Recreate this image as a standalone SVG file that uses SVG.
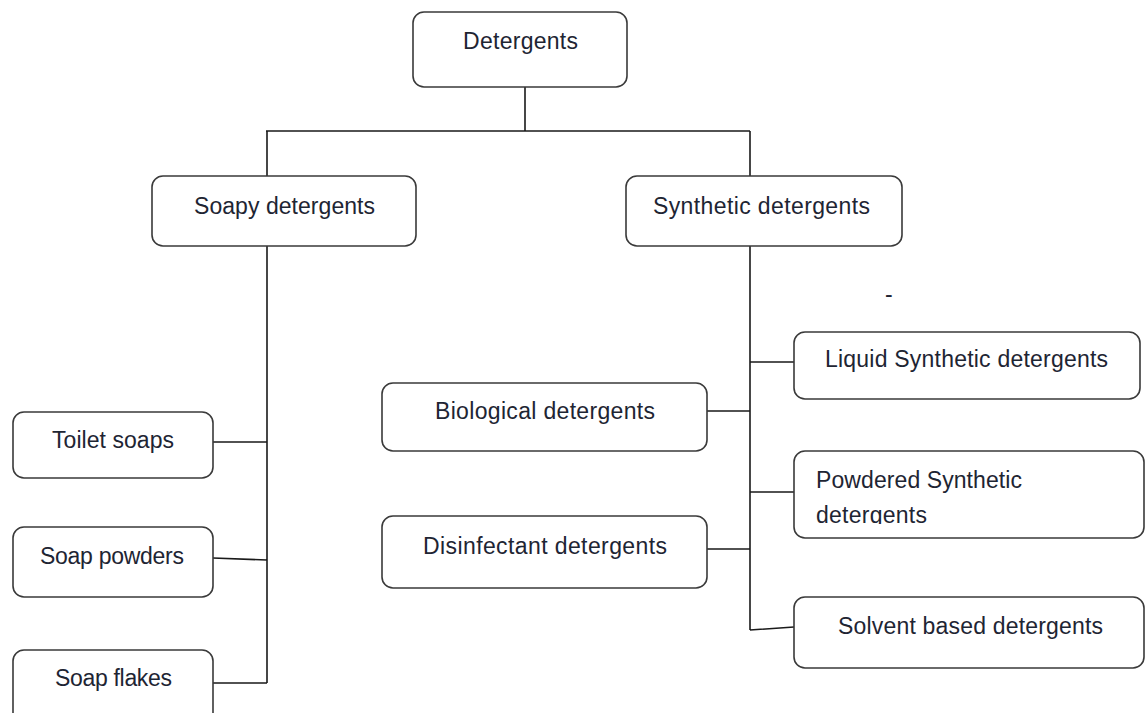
<svg xmlns="http://www.w3.org/2000/svg" width="1145" height="713" viewBox="0 0 1145 713">
<style>
.box{fill:#fff;stroke:#3a3a3a;stroke-width:1.6}
.lbl{font-family:"Liberation Sans",Arial,sans-serif;font-size:23px;fill:#1e2533}
.c{text-anchor:middle}
.ln{fill:none;stroke:#1a1a1a;stroke-width:1.6}
</style>
<defs>
<clipPath id="clipPow"><rect x="794" y="451" width="351" height="73"/></clipPath>
</defs>
<rect width="1145" height="713" fill="#fff"/>
<g id="connectors">
<path class="ln" d="M525 87V131M266 131H750M267 131V176M750 131V176"/>
<path class="ln" d="M267 246V683M213 442H267M213 558L267 560M213 683H267"/>
<path class="ln" d="M750 246V630M750 362H794M707 411H750M750 492H794M707 549H750M750 630L794 627"/>
</g>
<g id="n-detergents">
<rect class="box" x="413" y="12" width="214" height="75" rx="11"/>
<text class="lbl c" x="520.5" y="49" textLength="115">Detergents</text>
</g>
<g id="n-soapy">
<rect class="box" x="152" y="176" width="264" height="70" rx="11"/>
<text class="lbl c" x="284.5" y="214" textLength="181">Soapy detergents</text>
</g>
<g id="n-synthetic">
<rect class="box" x="626" y="176" width="276" height="70" rx="11"/>
<text class="lbl c" x="761.5" y="214" textLength="217">Synthetic detergents</text>
</g>
<g id="n-mark">
<text class="lbl" x="885" y="302" font-size="16">-</text>
</g>
<g id="n-liquid">
<rect class="box" x="794" y="332" width="346" height="67" rx="11"/>
<text class="lbl c" x="966.5" y="367" textLength="283">Liquid Synthetic detergents</text>
</g>
<g id="n-biological">
<rect class="box" x="382" y="383" width="325" height="68" rx="11"/>
<text class="lbl c" x="545" y="419" textLength="220">Biological detergents</text>
</g>
<g id="n-powdered">
<rect class="box" x="794" y="451" width="350" height="87" rx="11"/>
<g clip-path="url(#clipPow)">
<text class="lbl" x="816" y="488" textLength="206">Powdered Synthetic</text>
<text class="lbl" x="816" y="523" textLength="111">detergents</text>
</g>
</g>
<g id="n-disinfectant">
<rect class="box" x="382" y="516" width="325" height="72" rx="11"/>
<text class="lbl c" x="545" y="554" textLength="244">Disinfectant detergents</text>
</g>
<g id="n-solvent">
<rect class="box" x="794" y="597" width="350" height="71" rx="11"/>
<text class="lbl c" x="970.5" y="634" textLength="265">Solvent based detergents</text>
</g>
<g id="n-toilet">
<rect class="box" x="13" y="412" width="200" height="66" rx="11"/>
<text class="lbl c" x="113" y="448" textLength="122">Toilet soaps</text>
</g>
<g id="n-powders">
<rect class="box" x="13" y="527" width="200" height="70" rx="11"/>
<text class="lbl c" x="112" y="564" textLength="144">Soap powders</text>
</g>
<g id="n-flakes">
<rect class="box" x="13" y="650" width="200" height="75" rx="11"/>
<text class="lbl c" x="113.5" y="686" textLength="117">Soap flakes</text>
</g>
</svg>
